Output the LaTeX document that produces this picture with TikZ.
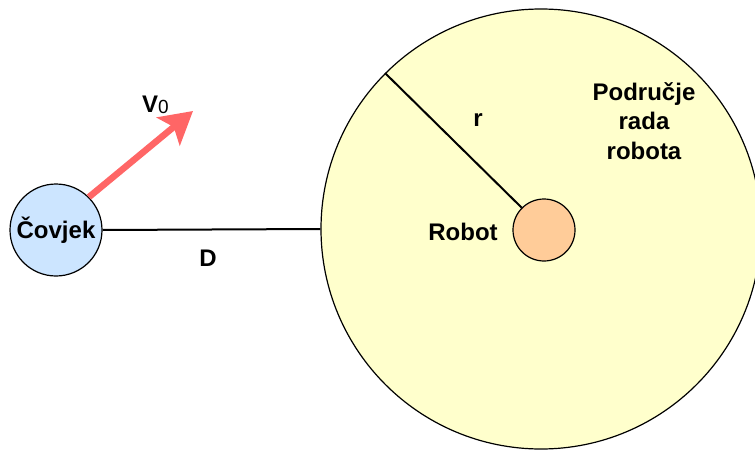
\documentclass[tikz,border=0pt]{standalone}
\usepackage{fontspec}
\setmainfont{Liberation Sans}
\usetikzlibrary{arrows.meta}
\definecolor{areafill}{HTML}{FFFFCC}
\definecolor{humanfill}{HTML}{CCE5FF}
\definecolor{robotfill}{HTML}{FFCC99}
\definecolor{arrowred}{HTML}{FF6666}
\tikzset{
  disc/.style={circle, draw=black, line width=1.2pt, inner sep=0pt},
  lbl/.style={font=\fontsize{24}{29.5}\selectfont\bfseries, inner sep=0pt, align=center},
  conn/.style={draw=black, line width=2pt},
}
\begin{document}
\begin{tikzpicture}[x=1pt,y=1pt]
\useasboundingbox (0,0) rectangle (755,-452);
\node[disc, fill=areafill, minimum size=440pt] (area) at (541,-229) {};
\node[disc, fill=robotfill, minimum size=62pt] (robot) at (544,-230) {};
\node[disc, fill=humanfill, minimum size=92pt] (cov) at (56,-230) {};
\node[lbl] (covl) at (56,-230) {Čovjek};
\coordinate (tip) at (193,-111);
\draw[draw=arrowred, line width=6.5pt, -{Stealth[length=32pt,width=36pt,inset=7pt]}] (cov.north east) -- (tip);
\draw[conn] (cov.east) -- (area.west);
\draw[conn] (robot.north west) -- (area.north west);
\node[lbl, anchor=base west] (v0) at (142,-112) {V\raisebox{-1.5pt}{\mdseries\fontsize{19}{19}\selectfont 0}};
\node[lbl] (dl) at (208,-258) {D};
\node[lbl] (rl) at (478,-120) {r};
\node[lbl] (robl) at (463,-232) {Robot};
\node[lbl] (zone) at (644,-121) {Područje\\rada\\robota};
\end{tikzpicture}
\end{document}
